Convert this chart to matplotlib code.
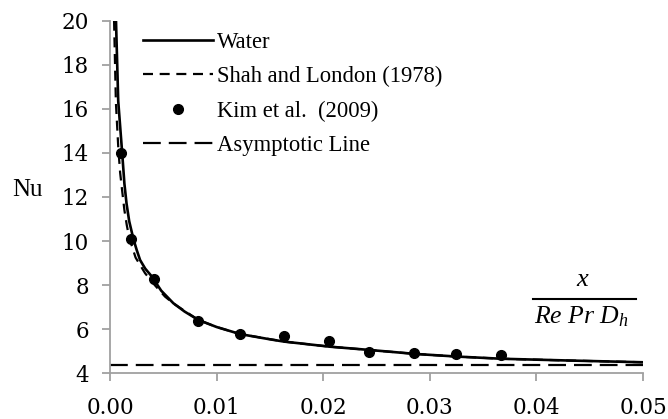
import matplotlib as mpl
mpl.use("Agg")
import matplotlib.pyplot as plt
from matplotlib.lines import Line2D

FOUT = "out.png"

# Water (present model)
WATER_X = [0.00056, 0.00077, 0.00113, 0.00135, 0.00155, 0.0018, 0.00219,
           0.0025, 0.00282, 0.0033, 0.00391, 0.0048, 0.00594, 0.007,
           0.00829, 0.010, 0.0122, 0.01502, 0.0163, 0.02056, 0.0243,
           0.0286, 0.0325, 0.0367, 0.043, 0.05]
WATER_NU = [20.0, 16.35, 14.06, 12.6, 11.7, 10.9, 10.1,
            9.6, 9.14, 8.75, 8.4, 7.75, 7.18, 6.8,
            6.42, 6.1, 5.78, 5.54, 5.44, 5.21, 5.06,
            4.88, 4.76, 4.66, 4.58, 4.5]

# Shah and London (1978)
SHAH_X = [0.00038, 0.00055, 0.00078, 0.00095, 0.00113, 0.00135, 0.00157,
          0.0018, 0.0024, 0.00329, 0.0042, 0.00516, 0.006, 0.007,
          0.00829, 0.010, 0.0122, 0.0163, 0.02056, 0.0243, 0.0286,
          0.0325, 0.0367, 0.043, 0.05]
SHAH_NU = [20.0, 16.3, 14.2, 13.1, 12.32, 11.4, 10.73,
           10.15, 9.25, 8.54, 8.0, 7.48, 7.15, 6.83,
           6.42, 6.1, 5.78, 5.44, 5.21, 5.06, 4.88,
           4.76, 4.66, 4.58, 4.5]

# Kim et al. (2009)
KIM_X = [0.001, 0.00197, 0.00416, 0.00826, 0.01217, 0.0163, 0.02056,
         0.02434, 0.02856, 0.03248, 0.03667]
KIM_NU = [14.0, 10.08, 8.27, 6.37, 5.77, 5.69, 5.45,
          4.95, 4.93, 4.88, 4.85]

ASYMPTOTE = 4.364

XTICKS = [0.00, 0.01, 0.02, 0.03, 0.04, 0.05]
YTICKS = [4, 6, 8, 10, 12, 14, 16, 18, 20]

GRAY = "#a0a0a0"

mpl.rcParams.update({
    "font.family": "Liberation Serif",
    "mathtext.fontset": "custom",
    "mathtext.rm": "Liberation Serif",
    "mathtext.it": "Liberation Serif:italic",
    "font.size": 17,
})

fig = plt.figure(figsize=(6.68, 4.19), dpi=100)
ax = fig.add_axes((0.1647, 0.1091, 0.7979, 0.8415))

ax.plot(WATER_X, WATER_NU, color="black", lw=1.9, label="Water", zorder=4)
ax.plot(SHAH_X, SHAH_NU, color="black", lw=1.6, ls=(0, (4.5, 3)),
        label="Shah and London (1978)", zorder=3)
ax.plot(KIM_X, KIM_NU, "o", color="black", ms=7, label="Kim et al.  (2009)",
        zorder=5)
ax.axhline(ASYMPTOTE, color="black", lw=1.6, ls=(0, (8, 3.6)),
           label="Asymptotic Line", zorder=2)

ax.set_xlim(0, 0.05)
ax.set_ylim(4, 20)
ax.set_xticks(XTICKS)
ax.set_xticklabels(["{:.2f}".format(v) for v in XTICKS])
ax.set_yticks(YTICKS)

for side in ("top", "right"):
    ax.spines[side].set_visible(False)
for side in ("left", "bottom"):
    ax.spines[side].set_color(GRAY)
    ax.spines[side].set_linewidth(1.3)
ax.tick_params(axis="both", direction="out", length=6, width=1.3,
               color=GRAY)
ax.tick_params(axis="x", pad=11)
ax.tick_params(axis="y", pad=9)
for lbl in ax.get_xticklabels() + ax.get_yticklabels():
    lbl.set_fontfamily("DejaVu Serif")
    lbl.set_fontsize(15.5)

ax.legend(loc="upper left", bbox_to_anchor=(0.062, 0.968), frameon=False,
          fontsize=16.3, borderpad=0, borderaxespad=0, handlelength=3.1,
          handletextpad=0.18, labelspacing=0.58)

fig.text(27 / 668, 1 - 190 / 419, "Nu", ha="center", va="center", fontsize=18)

# x-axis label drawn as a fraction on the right
fig.text(583 / 668, 1 - 280 / 419, r"$x$", ha="center", va="center", fontsize=19)
fig.add_artist(Line2D([533 / 668, 636 / 668], [1 - 298.5 / 419] * 2,
                      color="black", lw=1.5, transform=fig.transFigure))
fig.text(581 / 668, 1 - 317 / 419, r"$Re\ Pr\ D_h$", ha="center", va="center",
         fontsize=18.5)

plt.savefig(FOUT, dpi=100)
